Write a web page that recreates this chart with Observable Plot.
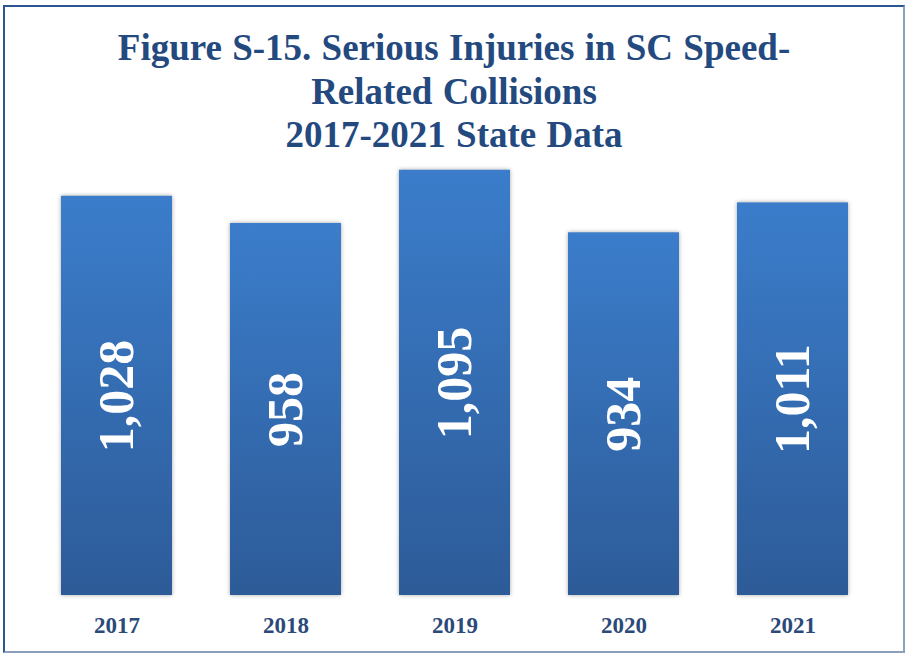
<!DOCTYPE html>
<html><head><meta charset="utf-8">
<script src="https://cdn.jsdelivr.net/npm/d3@7"></script>
<script src="https://cdn.jsdelivr.net/npm/@observablehq/plot@0.6"></script>
<style>
html,body{margin:0;padding:0;background:#fff;}
#wrap{position:relative;width:906px;height:654px;overflow:hidden;}
#frame{position:absolute;left:3px;top:5px;width:902px;height:648px;box-sizing:border-box;
  border-top:2px solid #2b5593;border-left:2px solid #2b5593;border-right:2px solid #8aa0bd;border-bottom:2px solid #8aa0bd;}
#title{position:absolute;left:3px;width:902px;top:26px;text-align:center;
  font-family:"Liberation Serif","Times New Roman",serif;font-weight:bold;font-size:37px;line-height:43.5px;color:#23497f;z-index:2;word-spacing:1px;}
#chart{position:absolute;left:0;top:0;z-index:1;}
</style></head>
<body>
<div id="wrap">
  <div id="frame"></div>
  <div id="title">Figure S-15. Serious Injuries in SC Speed-<br>Related Collisions<br>2017-2021 State Data</div>
  <div id="chart"></div>
</div>
<script>
const years = ["2017", "2018", "2019", "2020", "2021"];
const injuries = [1028, 958, 1095, 934, 1011];
const valueLabels = ["1,028", "958", "1,095", "934", "1,011"];

const data = years.map((y, i) => ({year: y, value: injuries[i], label: valueLabels[i]}));

const gradientDefs = () => {
  const defs = d3.create("svg:defs");
  const g = defs.append("linearGradient").attr("id", "barGrad")
    .attr("x1", 0).attr("y1", 0).attr("x2", 0).attr("y2", 1);
  g.append("stop").attr("offset", "0%").attr("stop-color", "#3b7dcb");
  g.append("stop").attr("offset", "100%").attr("stop-color", "#2d5b98");
  return defs.node();
};

const plot = Plot.plot({
  width: 906,
  height: 654,
  marginTop: 129,
  marginBottom: 59,
  marginLeft: 3,
  marginRight: 0,
  x: {domain: years, padding: 0.343, label: null},
  y: {domain: [0, 1200], axis: null},
  style: {background: "transparent", fontFamily: "'Liberation Serif', 'Times New Roman', serif"},
  marks: [
    gradientDefs,
    Plot.barY(data, {x: "year", y: "value", fill: "url(#barGrad)"}),
    Plot.text(data, {
      x: "year", y: d => d.value / 2, text: "label", rotate: -90,
      fill: "white", fontSize: 50, fontWeight: "bold",
      fontFamily: "'Liberation Serif', 'Times New Roman', serif"
    }),
    Plot.axisX({tickSize: 0, tickPadding: 21, fontSize: 23, fontWeight: "bold", color: "#2b4a7a", label: null,
      fontFamily: "'Liberation Serif', 'Times New Roman', serif"})
  ]
});

d3.select(plot).selectAll("g[aria-label='bar'] rect")
  .style("filter", "drop-shadow(0px 0px 2px rgba(0,0,0,0.35))");

document.getElementById("chart").appendChild(plot);
</script>
</body></html>
